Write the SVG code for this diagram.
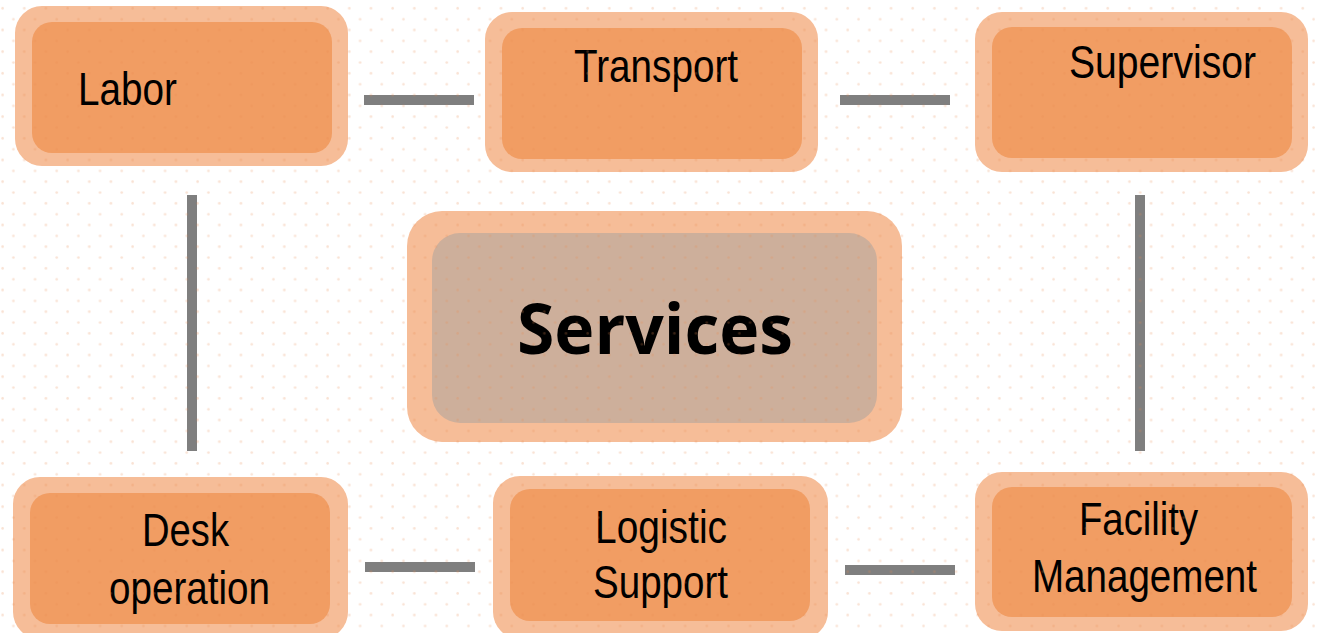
<svg xmlns="http://www.w3.org/2000/svg" width="1317" height="633" viewBox="0 0 1317 633">
  <defs>
    <pattern id="dots" x="0" y="0" width="21.67" height="21.67" patternUnits="userSpaceOnUse">
      <circle cx="2.6" cy="8.3" r="1.3" fill="#e88a50"/>
      <circle cx="13.4" cy="19.2" r="1.3" fill="#e88a50"/>
    </pattern>
  </defs>
  <style>
    .outer { fill: #f6bd98; }
    .inner { fill: #f19d63; }
    .lbl { font-family: "Liberation Sans Narrow", "Liberation Sans", Arial, sans-serif; font-size: 47px; fill: #000; }
    .title { font-family: "Open Sans", "DejaVu Sans", sans-serif; font-weight: bold; font-size: 70px; fill: #000; }
    .conn { stroke: #7f7f7f; stroke-width: 10; fill: none; }
  </style>
  <rect width="1317" height="633" fill="#ffffff"/>

  <g id="connectors">
    <line class="conn" x1="364" y1="100" x2="474" y2="100"/>
    <line class="conn" x1="840" y1="100" x2="950" y2="100"/>
    <line class="conn" x1="365" y1="567" x2="475" y2="567"/>
    <line class="conn" x1="845" y1="570" x2="955" y2="570"/>
    <line class="conn" x1="192" y1="195" x2="192" y2="451"/>
    <line class="conn" x1="1140" y1="195" x2="1140" y2="451"/>
  </g>

  <g id="labor">
    <rect class="outer" x="15" y="6" width="333" height="160" rx="27"/>
    <rect class="inner" x="32" y="22" width="300" height="131" rx="20"/>
    <text class="lbl" x="78" y="105" textLength="99" lengthAdjust="spacingAndGlyphs">Labor</text>
  </g>

  <g id="transport">
    <rect class="outer" x="485" y="12" width="333" height="160" rx="27"/>
    <rect class="inner" x="502" y="28" width="300" height="131" rx="20"/>
    <text class="lbl" x="574" y="82" textLength="164" lengthAdjust="spacingAndGlyphs">Transport</text>
  </g>

  <g id="supervisor">
    <rect class="outer" x="975" y="12" width="333" height="160" rx="27"/>
    <rect class="inner" x="992" y="27" width="300" height="131" rx="20"/>
    <text class="lbl" x="1069" y="78" textLength="187" lengthAdjust="spacingAndGlyphs">Supervisor</text>
  </g>

  <g id="services">
    <rect class="outer" x="407" y="211" width="495" height="231" rx="35"/>
    <rect x="432" y="233" width="445" height="190" rx="28" fill="#cdaf9b"/>
    <text class="title" x="517" y="354" textLength="276" lengthAdjust="spacingAndGlyphs">Services</text>
  </g>

  <g id="desk-operation">
    <rect class="outer" x="13" y="477" width="335" height="162" rx="27"/>
    <rect class="inner" x="30" y="493" width="300" height="131" rx="20"/>
    <text class="lbl" x="142" y="546" textLength="87" lengthAdjust="spacingAndGlyphs">Desk</text>
    <text class="lbl" x="109" y="604" textLength="161" lengthAdjust="spacingAndGlyphs">operation</text>
  </g>

  <g id="logistic-support">
    <rect class="outer" x="493" y="476" width="335" height="163" rx="27"/>
    <rect class="inner" x="510" y="489" width="300" height="132" rx="20"/>
    <text class="lbl" x="595" y="543" textLength="132" lengthAdjust="spacingAndGlyphs">Logistic</text>
    <text class="lbl" x="593" y="598" textLength="135" lengthAdjust="spacingAndGlyphs">Support</text>
  </g>

  <g id="facility-management">
    <rect class="outer" x="975" y="472" width="333" height="159" rx="27"/>
    <rect class="inner" x="992" y="487" width="300" height="130" rx="20"/>
    <text class="lbl" x="1079" y="535" textLength="119" lengthAdjust="spacingAndGlyphs">Facility</text>
    <text class="lbl" x="1032" y="592" textLength="225" lengthAdjust="spacingAndGlyphs">Management</text>
  </g>

  <rect width="1317" height="633" fill="url(#dots)" opacity="0.25" pointer-events="none"/>
</svg>
